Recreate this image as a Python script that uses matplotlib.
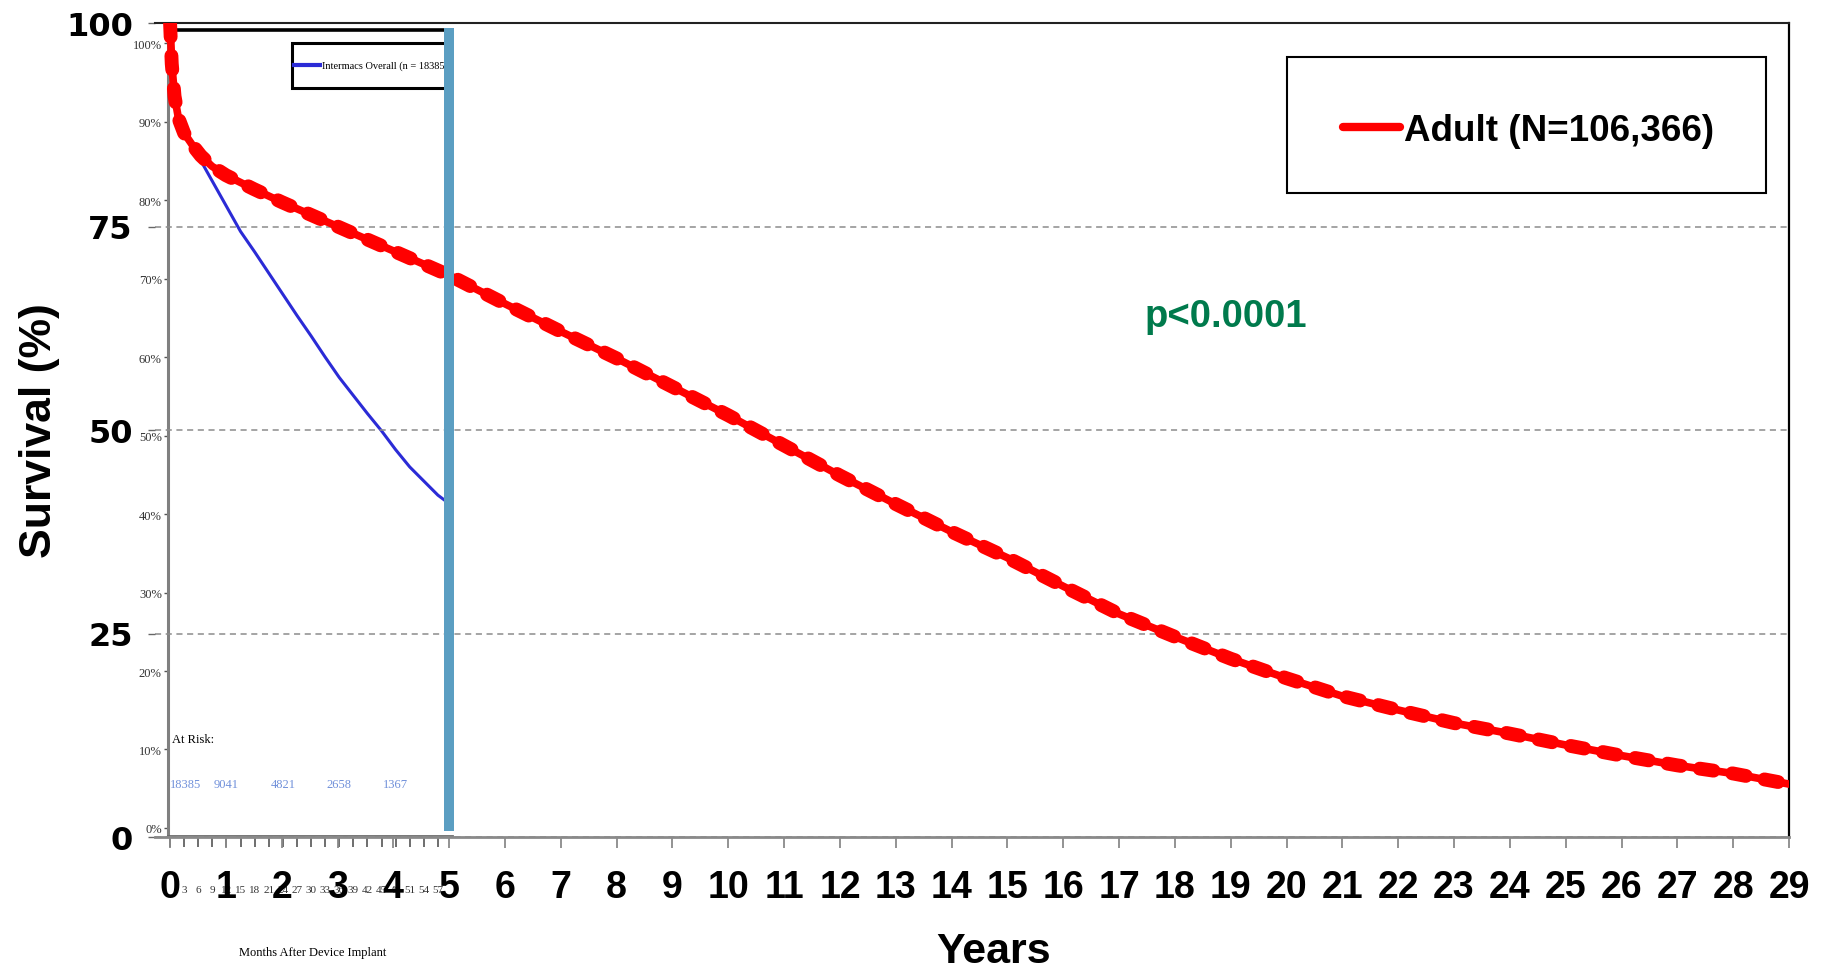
import matplotlib
matplotlib.use('Agg')
import matplotlib.pyplot as plt
from matplotlib.lines import Line2D
from matplotlib.patches import Rectangle

# adult survival (main chart, years)
years = [0, 0.03, 0.08, 0.15, 0.25, 0.4, 0.55, 0.75, 1, 1.5, 2, 2.5, 3, 3.5, 4, 4.5, 5,
         6, 7, 8, 9, 10, 11, 12, 13, 14, 15, 16, 17, 18, 19, 20, 21, 22, 23, 24, 25,
         26, 27, 28, 29]
adult_surv = [100, 95, 91, 88.3, 86.5, 85.0, 83.7, 82.4, 81.3, 79.6, 78.0, 76.5, 75.0,
              73.5, 72.0, 70.5, 69.0, 65.5, 62.1, 58.8, 55.3, 51.8, 48.1, 44.4, 40.9,
              37.5, 34.3, 30.8, 27.4, 24.6, 21.9, 19.5, 17.3, 15.6, 14.0, 12.7, 11.3,
              10.0, 8.8, 7.8, 6.5]

# intermacs overall (inset chart, months)
months = [0, 0.5, 1, 2, 3, 4.5, 6, 9, 12, 15, 18, 21, 24, 27, 30, 33, 36, 39, 42, 45,
          48, 51, 54, 57, 59]
intermacs_surv = [100, 96, 93.5, 90.5, 88.5, 86.8, 85.6, 82.4, 79.2, 76.0, 73.4, 70.7,
                  68.0, 65.3, 62.7, 60.0, 57.4, 55.1, 52.8, 50.6, 48.2, 46.0, 44.2,
                  42.4, 41.5]

risk_months = [0, 12, 24, 36, 48, 60]
risk_counts = ['18385', '9041', '4821', '2658', '1367', '6']

year_ticks = list(range(0, 30))
surv_ticks = [0, 25, 50, 75, 100]
month_ticks = list(range(0, 58, 3))
pct_ticks = list(range(0, 101, 10))

plt.rcParams['font.family'] = ['Liberation Sans', 'DejaVu Sans']

W, H = 1829, 970
def box(l, t, r, b):
    return [l / W, 1 - b / H, (r - l) / W, (b - t) / H]

fig = plt.figure(figsize=(W / 100, H / 100), dpi=100)
inset = fig.add_axes(box(168, 31, 452, 837), zorder=1)
ax = fig.add_axes(box(155, 24, 1789, 838), zorder=2)
ax.patch.set_alpha(0)

# ---- inset (Intermacs) ----
serif = 'Liberation Serif'
inset.set_xlim(-0.43, 60)
inset.set_ylim(-1.02, 101.66)
inset.plot(months, intermacs_surv, color='#2B2BD6', lw=2.2, zorder=2)
inset.spines['right'].set_visible(False)
inset.spines['left'].set_color('#808080')
inset.spines['left'].set_linewidth(2.2)
inset.spines['top'].set_color('black')
inset.spines['top'].set_linewidth(2.6)
inset.spines['bottom'].set_color('#6a6a6a')
inset.spines['bottom'].set_linewidth(2)
inset.set_xticks(month_ticks)
inset.set_xticklabels(['' if m == 0 else str(m) for m in month_ticks],
                      family=serif, fontsize=8, color='#333333')
inset.set_yticks(pct_ticks)
inset.set_yticklabels(['%d%%' % p for p in pct_ticks], family=serif, fontsize=9,
                      color='#333333')
inset.tick_params(axis='x', length=8, width=1.2, color='#555555', pad=27)
inset.tick_params(axis='y', length=3, width=1, color='#555555', pad=1.5)
inset.set_xlabel('Months After Device Implant', family=serif, fontsize=9)
inset.xaxis.set_label_coords(0.51, -0.136)

inset.text(0.4, 11.3, 'At Risk:', family=serif, fontsize=9, ha='left', va='center')
for i, (m, c) in enumerate(zip(risk_months, risk_counts)):
    inset.text(m, 5.6, c, family=serif, fontsize=9, color='#7090DA',
               ha='left' if i == 0 else 'center', va='center', clip_on=True)

inset.add_patch(Rectangle((0.437, 0.928), 0.7, 0.056, transform=inset.transAxes,
                          facecolor='white', edgecolor='black', lw=2.2, clip_on=True,
                          zorder=3))
inset.add_line(Line2D([0.444, 0.535], [0.956, 0.956], transform=inset.transAxes,
                      color='#2B2BD6', lw=3, zorder=4))
inset.text(0.542, 0.956, 'Intermacs Overall (n = 18385, Deaths = 561',
           transform=inset.transAxes, family=serif, fontsize=7.5, ha='left',
           va='center', clip_on=True, zorder=4)

# ---- main chart ----
ax.set_xlim(-0.27, 29)
ax.set_ylim(0, 100)
ax.plot(years, adult_surv, color='red', lw=5.5, solid_capstyle='round', zorder=3)
ax.plot(years, adult_surv, color='red', lw=10, ls=(0, (1.0, 1.36)),
        dash_capstyle='round', zorder=3)
ax.bar([5], [98.7], bottom=0.7, width=0.18, color='#5B9EC2', zorder=4)

ax.set_yticks(surv_ticks)
ax.set_yticklabels([str(v) for v in surv_ticks], family='DejaVu Sans',
                   fontweight='bold', fontsize=23)
ax.set_xticks(year_ticks)
ax.set_xticklabels([str(v) for v in year_ticks], fontweight='bold', fontsize=27)
ax.tick_params(axis='x', length=8, width=1.3, color='#8a8a8a', pad=15)
ax.tick_params(axis='y', length=5, width=1, color='#666666', pad=11)
ax.yaxis.grid(True, ls=(0, (4, 3)), color='#8c8c8c', lw=1.1)

ax.spines['left'].set_visible(False)
ax.spines['top'].set_linestyle((0, (3, 1)))
ax.spines['top'].set_color('#222222')
ax.spines['top'].set_linewidth(1.5)
ax.spines['right'].set_color('black')
ax.spines['right'].set_linewidth(1.6)
ax.spines['bottom'].set_color('#8a8a8a')
ax.spines['bottom'].set_linewidth(2)

ax.set_ylabel('Survival (%)', fontsize=32, fontweight='bold')
ax.yaxis.set_label_coords(-0.058, 0.5)
ax.set_xlabel('Years', fontsize=31, fontweight='bold')
ax.xaxis.set_label_coords(0.513, -0.116)

ax.text(17.45, 62.8, 'p<0.0001', color='#007A4C', fontsize=27.5, fontweight='bold',
        ha='left', va='baseline')

# legend box
ax.add_patch(Rectangle((0.6928, 0.7912), 0.2931, 0.167, transform=ax.transAxes,
                       facecolor='white', edgecolor='black', lw=1.5, zorder=5))
handle = Line2D([], [], color='red', lw=6, solid_capstyle='round')
leg = ax.legend([handle], ['Adult (N=106,366)'], loc='center left',
                bbox_to_anchor=(0.727, 0.868), frameon=False, borderpad=0,
                borderaxespad=0, handlelength=1.55, handletextpad=0.1,
                prop={'weight': 'bold', 'size': 26.5})
leg.set_zorder(6)

fig.savefig('out.png', dpi=100)
